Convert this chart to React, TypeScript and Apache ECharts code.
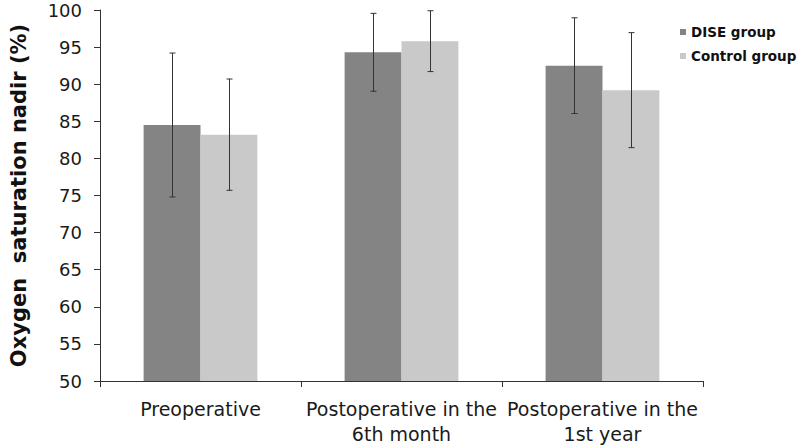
import React, { useEffect, useRef } from "react";
import * as echarts from "echarts";

const categories = [
  "Preoperative",
  "Postoperative in the\n6th month",
  "Postoperative in the\n1st year",
];
const seriesNames = ["DISE group", "Control group"];
const diseMean = [84.5, 94.3, 92.5];
const diseSD = [9.7, 5.25, 6.45];
const controlMean = [83.2, 95.8, 89.2];
const controlSD = [7.5, 4.1, 7.75];
const yTitle = "Oxygen\u00a0 saturation nadir (%)";

const colors = ["#848484", "#c9c9c9"];
const BAR_FRAC = 0.283;

function errData(mean: number[], sd: number[]) {
  return mean.map((m, i) => [i, m - sd[i], m + sd[i]]);
}

function makeErrorSeries(name: string, mean: number[], sd: number[], side: number) {
  return {
    type: "custom",
    name: name + " error",
    silent: true,
    clip: false,
    z: 10,
    encode: { x: 0, y: [1, 2] },
    data: errData(mean, sd),
    renderItem: (params: any, api: any) => {
      const idx = api.value(0);
      const lo = api.coord([idx, api.value(1)]);
      const hi = api.coord([idx, api.value(2)]);
      const bw = api.size([1, 0])[0] * BAR_FRAC;
      const x = Math.round(lo[0] + side * bw / 2) + 0.5;
      const cap = 3;
      const style = { stroke: "#333333", lineWidth: 1 };
      return {
        type: "group",
        children: [
          { type: "line", shape: { x1: x, y1: hi[1], x2: x, y2: lo[1] }, style },
          { type: "line", shape: { x1: x - cap, y1: hi[1], x2: x + cap, y2: hi[1] }, style },
          { type: "line", shape: { x1: x - cap, y1: lo[1], x2: x + cap, y2: lo[1] }, style },
        ],
      };
    },
  };
}

export default function App() {
  const ref = useRef<HTMLDivElement>(null);
  useEffect(() => {
    if (!ref.current) return;
    const chart = echarts.init(ref.current, undefined, { renderer: "svg" });
    const font = "DejaVu Sans";
    chart.setOption({
      animation: false,
      backgroundColor: "#ffffff",
      grid: { left: 94, right: 97, top: 10, bottom: 66, containLabel: false },
      legend: {
        orient: "vertical",
        left: 680,
        top: 25,
        padding: 0,
        itemWidth: 6,
        itemHeight: 6,
        itemGap: 10,
        icon: "rect",
        data: seriesNames,
        textStyle: {
          fontFamily: font,
          fontWeight: "bold",
          fontSize: 13.5,
          lineHeight: 14,
          color: "#111",
        },
      },
      xAxis: {
        type: "category",
        data: categories,
        axisLine: { show: true, lineStyle: { color: "#333", width: 1 } },
        axisTick: { show: true, alignWithLabel: false, length: 6, lineStyle: { color: "#333" } },
        axisLabel: {
          interval: 0,
          fontFamily: font,
          fontSize: 19,
          lineHeight: 25,
          color: "#1a1a1a",
          margin: 15,
        },
        splitLine: { show: false },
      },
      yAxis: {
        type: "value",
        min: 50,
        max: 100,
        interval: 5,
        name: yTitle,
        nameLocation: "middle",
        nameGap: 71,
        nameTextStyle: {
          fontFamily: font,
          fontWeight: "bold",
          fontSize: 21,
          color: "#111",
        },
        axisLine: { show: true, lineStyle: { color: "#333", width: 1 } },
        axisTick: { show: true, length: 6, lineStyle: { color: "#333" } },
        axisLabel: {
          fontFamily: font,
          fontSize: 18,
          color: "#1a1a1a",
          margin: 18,
        },
        splitLine: { show: false },
      },
      series: [
        {
          type: "bar",
          name: seriesNames[0],
          data: diseMean,
          barWidth: BAR_FRAC * 100 + "%",
          barGap: "0%",
          itemStyle: { color: colors[0] },
        },
        {
          type: "bar",
          name: seriesNames[1],
          data: controlMean,
          barWidth: BAR_FRAC * 100 + "%",
          barGap: "0%",
          itemStyle: { color: colors[1] },
        },
        makeErrorSeries(seriesNames[0], diseMean, diseSD, -1),
        makeErrorSeries(seriesNames[1], controlMean, controlSD, 1),
      ],
    });
    return () => chart.dispose();
  }, []);
  return <div ref={ref} style={{ width: 800, height: 447, position: "absolute", left: 0, top: 0 }} />;
}
